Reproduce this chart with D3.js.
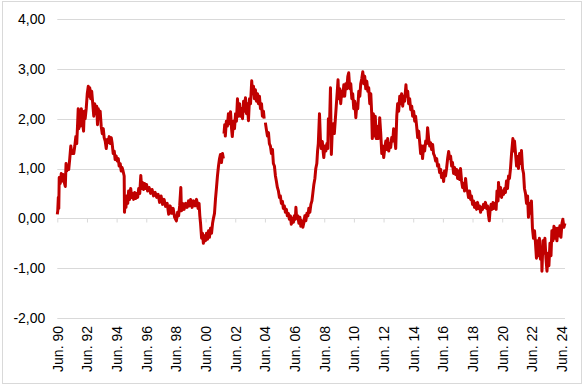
<!doctype html>
<html>
  <head>
    <meta charset="utf-8">
    <script src="https://cdn.jsdelivr.net/npm/d3@7"></script>
    <style>
      body { margin: 0; background: white; }
      .chart text { font-family: "Liberation Sans", Arial, sans-serif; font-size: 14px; fill: #000; }
    </style>
  </head>
  <body>
    <svg class="chart"></svg>

    <script>
      // series is split where the source has missing data (gaps in the line)
      // each entry: [decimal year, value]
      const yields1990 = [
        [1990.42,0.08],[1990.45,0.15],[1990.49,0.42],[1990.52,0.20],[1990.55,0.82],[1990.62,0.70],[1990.69,0.90],
        [1990.76,0.75],[1990.82,0.88],[1990.89,0.72],[1990.96,0.64],[1991.01,1.10],[1991.06,0.95],[1991.12,1.05],
        [1991.19,0.98],[1991.26,1.20],[1991.33,1.45],[1991.40,1.30],[1991.46,1.35],[1991.53,1.30],[1991.60,1.45],
        [1991.67,1.64],[1991.73,1.50],[1991.79,1.90],[1991.83,2.20],[1991.87,1.80],[1991.92,2.10],[1991.97,1.85],
        [1992.04,2.20],[1992.10,2.00],[1992.19,1.75],[1992.24,2.15],[1992.30,2.00],[1992.37,2.20],[1992.44,2.50],
        [1992.51,2.65],[1992.55,2.45],[1992.61,2.62],[1992.67,2.40],[1992.74,2.55],[1992.81,2.30],[1992.88,2.05],
        [1992.94,2.30],[1993.01,2.10],[1993.08,2.25],[1993.13,1.88],[1993.18,2.20],[1993.25,2.05],[1993.31,2.15],
        [1993.38,1.85],[1993.45,1.70],[1993.52,1.80],[1993.58,1.62],[1993.65,1.55],[1993.72,1.40],[1993.79,1.58],
        [1993.85,1.52],[1993.92,1.64],[1993.99,1.50],[1994.06,1.62],[1994.12,1.50],[1994.19,1.30],[1994.26,1.35],
        [1994.32,1.18],[1994.39,1.25],[1994.46,1.15],[1994.53,1.20],[1994.59,1.05],[1994.66,1.10],[1994.73,0.95],
        [1994.79,1.02],[1994.86,0.94],[1994.93,0.85],[1994.95,0.12],[1995.00,0.35],[1995.05,0.22],[1995.10,0.45],
        [1995.17,0.30],[1995.23,0.55],[1995.30,0.38],[1995.37,0.60],[1995.44,0.42],[1995.50,0.50],[1995.57,0.38],
        [1995.64,0.52],[1995.71,0.40],[1995.77,0.50],[1995.84,0.42],[1995.91,0.60],[1995.98,0.50],[1996.05,0.86],
        [1996.11,0.60],[1996.17,0.72],[1996.24,0.58],[1996.31,0.70],[1996.38,0.60],[1996.44,0.68],[1996.51,0.55],
        [1996.61,0.62],[1996.71,0.50],[1996.81,0.58],[1996.91,0.45],[1997.02,0.52],[1997.12,0.42],[1997.22,0.48],
        [1997.32,0.32],[1997.42,0.45],[1997.52,0.28],[1997.62,0.38],[1997.72,0.24],[1997.83,0.30],[1997.93,0.08],
        [1998.03,0.25],[1998.13,0.10],[1998.23,0.20],[1998.33,0.02],[1998.45,-0.05],[1998.53,0.12],[1998.60,0.05],
        [1998.67,0.25],[1998.75,0.62],[1998.79,0.15],[1998.87,0.30],[1998.97,0.18],[1999.07,0.30],[1999.17,0.22],
        [1999.27,0.35],[1999.34,0.25],[1999.41,0.38],[1999.51,0.22],[1999.61,0.35],[1999.71,0.25],[1999.81,0.38],
        [1999.91,0.20],[1999.98,0.30],[2000.03,0.05],[2000.08,-0.10],[2000.15,-0.40],[2000.21,-0.30],[2000.27,-0.50],
        [2000.35,-0.35],[2000.41,-0.45],[2000.48,-0.30],[2000.55,-0.42],[2000.62,-0.25],[2000.68,-0.38],[2000.75,-0.20],
        [2000.82,-0.30],[2000.89,-0.10],[2000.95,0.00],[2001.02,0.10],[2001.09,0.40],[2001.15,0.60],[2001.22,0.85],
        [2001.29,1.05],[2001.36,1.20],[2001.42,1.28],[2001.49,1.12],[2001.56,1.30],[2001.62,1.20]
      ]

      const yields2001 = [
        [2001.66,1.70],[2001.71,1.88],[2001.75,1.65],[2001.82,1.95],[2001.89,1.85],[2001.96,2.10],[2002.03,1.90],
        [2002.10,2.14],[2002.17,1.80],[2002.22,1.64],[2002.30,1.95],[2002.37,1.80],[2002.44,2.10],[2002.50,1.95],
        [2002.57,2.40],[2002.64,2.05],[2002.71,2.30],[2002.77,2.05],[2002.84,2.20],[2002.91,2.00],[2002.98,2.35],
        [2003.04,2.15],[2003.11,2.42],[2003.18,2.10],[2003.24,2.30],[2003.31,1.96],[2003.38,2.40],[2003.45,2.30],
        [2003.53,2.76],[2003.58,2.50],[2003.65,2.65],[2003.71,2.40],[2003.78,2.58],[2003.85,2.35],[2003.92,2.50],
        [2003.98,2.30],[2004.05,2.45],[2004.12,2.20],[2004.19,2.30],[2004.25,2.05],[2004.32,2.15],[2004.37,2.00]
      ]

      const yields2004 = [
        [2004.45,1.92],[2004.52,1.78],[2004.59,1.65],[2004.66,1.72],[2004.72,1.50],[2004.79,1.45],[2004.86,1.30],
        [2004.93,1.38],[2004.99,1.10],[2005.06,1.05],[2005.13,0.85],[2005.19,0.75],[2005.26,0.62],[2005.33,0.55],
        [2005.40,0.42],[2005.46,0.45],[2005.53,0.30],[2005.60,0.34],[2005.66,0.20],[2005.73,0.25],[2005.80,0.12],
        [2005.87,0.18],[2005.93,0.05],[2006.00,0.10],[2006.07,-0.02],[2006.14,0.05],[2006.20,-0.12],[2006.27,0.00],
        [2006.34,-0.08],[2006.40,0.05],[2006.47,-0.02],[2006.51,0.22],[2006.56,0.00],[2006.64,0.05],[2006.71,-0.10],
        [2006.78,0.02],[2006.84,-0.16],[2006.91,-0.05],[2006.98,-0.18],[2007.05,-0.08],[2007.11,0.05],[2007.18,-0.05],
        [2007.25,0.10],[2007.32,0.05],[2007.38,0.20],[2007.45,0.12],[2007.52,0.28],[2007.59,0.35],[2007.65,0.50],
        [2007.72,0.68],[2007.79,0.80],[2007.85,1.00],[2007.92,1.10],[2007.97,1.35],[2008.02,1.50],[2008.10,2.10],
        [2008.16,1.60],[2008.22,1.40],[2008.29,1.54],[2008.36,1.30],[2008.39,1.22],[2008.46,1.45],[2008.53,1.35],
        [2008.60,1.50],[2008.66,1.40],[2008.70,2.00],[2008.76,1.70],[2008.84,2.62],[2008.90,1.28],[2008.96,1.75],
        [2009.03,1.90],[2009.10,1.70],[2009.16,1.95],[2009.23,2.25],[2009.30,2.55],[2009.35,2.78],[2009.40,2.40],
        [2009.47,2.60],[2009.53,2.30],[2009.60,2.55],[2009.67,2.45],[2009.74,2.68],[2009.80,2.45],[2009.87,2.70],
        [2009.94,2.60],[2010.01,2.85],[2010.07,2.92],[2010.14,2.60],[2010.21,2.70],[2010.28,2.40],[2010.34,2.50],
        [2010.41,2.20],[2010.48,2.35],[2010.55,2.02],[2010.62,2.30],[2010.68,2.20],[2010.75,2.55],[2010.82,2.45],
        [2010.88,2.70],[2010.95,2.80],[2011.02,2.94],[2011.09,2.70],[2011.15,2.85],[2011.22,2.60],[2011.29,2.75],
        [2011.36,2.55],[2011.42,2.62],[2011.49,2.30],[2011.56,2.50],[2011.62,2.10],[2011.66,1.60],[2011.73,2.10],
        [2011.79,1.65],[2011.86,2.05],[2011.93,1.60],[2011.99,1.85],[2012.06,1.60],[2012.13,1.80],[2012.16,2.02],
        [2012.23,1.70],[2012.30,1.30],[2012.36,1.45],[2012.43,1.22],[2012.50,1.40],[2012.57,1.55],[2012.63,1.38],
        [2012.70,1.60],[2012.77,1.35],[2012.84,1.50],[2012.90,1.42],[2012.97,1.62],[2013.04,1.55],[2013.10,1.80],
        [2013.17,1.60],[2013.24,1.40],[2013.31,2.05],[2013.37,2.30],[2013.44,2.15],[2013.51,2.45],[2013.58,2.30],
        [2013.64,2.50],[2013.71,2.25],[2013.78,2.45],[2013.84,2.35],[2013.93,2.68],[2013.98,2.45],[2014.05,2.55],
        [2014.11,2.30],[2014.18,2.40],[2014.25,2.18],[2014.32,2.25],[2014.38,2.05],[2014.45,2.15],[2014.52,1.95],
        [2014.58,2.05],[2014.65,1.85],[2014.72,1.62],[2014.79,1.75],[2014.85,1.55],[2014.92,1.30],[2014.99,1.45],
        [2015.05,1.20],[2015.12,1.45],[2015.19,1.35],[2015.26,1.55],[2015.33,1.50],[2015.39,1.82],[2015.46,1.60],
        [2015.53,1.45],[2015.59,1.52],[2015.66,1.38],[2015.73,1.48],[2015.79,1.30],[2015.86,1.25],[2015.93,1.15],
        [2016.00,1.20],[2016.06,1.05],[2016.13,1.08],[2016.20,0.92],[2016.27,0.98],[2016.33,0.82],[2016.40,0.90],
        [2016.47,0.74],[2016.53,0.95],[2016.60,0.85],[2016.67,1.00],[2016.74,1.20],[2016.81,1.34],[2016.87,1.20],
        [2016.94,1.25],[2017.01,1.05],[2017.07,1.12],[2017.14,0.90],[2017.21,1.02],[2017.28,0.88],[2017.35,0.98],
        [2017.41,0.80],[2017.48,0.95],[2017.55,0.78],[2017.61,1.00],[2017.68,0.75],[2017.75,0.62],[2017.81,0.70],
        [2017.88,0.55],[2017.95,0.80],[2018.02,0.58],[2018.08,0.55],[2018.15,0.42],[2018.22,0.55],[2018.29,0.38],
        [2018.35,0.45],[2018.42,0.28],[2018.49,0.35],[2018.55,0.22],[2018.62,0.30],[2018.69,0.18],[2018.76,0.32],
        [2018.82,0.20],[2018.89,0.25],[2018.96,0.12],[2019.03,0.22],[2019.09,0.18],[2019.16,0.28],[2019.23,0.22],
        [2019.29,0.32],[2019.37,0.20],[2019.43,0.25],[2019.50,0.05],[2019.55,-0.05],[2019.60,0.15],[2019.67,0.28],
        [2019.74,0.18],[2019.80,0.32],[2019.87,0.20],[2019.94,0.30],[2020.01,0.18],[2020.07,0.55],[2020.14,0.35],
        [2020.17,0.72],[2020.24,0.45],[2020.31,0.62],[2020.38,0.42],[2020.44,0.55],[2020.51,0.48],[2020.58,0.60],
        [2020.64,0.52],[2020.71,0.75],[2020.78,0.60],[2020.85,0.85],[2020.91,0.80],[2020.98,1.00],[2021.05,1.30],
        [2021.14,1.60],[2021.18,1.35],[2021.25,1.55],[2021.32,1.30],[2021.39,1.05],[2021.45,1.24],[2021.52,1.00],
        [2021.59,1.30],[2021.65,1.10],[2021.72,1.36],[2021.79,1.00],[2021.86,0.90],[2021.92,0.60],[2021.99,0.50],
        [2022.06,0.30],[2022.13,0.45],[2022.19,0.02],[2022.26,0.30],[2022.33,0.10],[2022.39,0.35],[2022.46,-0.20],
        [2022.53,-0.40],[2022.60,-0.25],[2022.66,-0.48],[2022.73,-0.80],[2022.80,-0.45],[2022.87,-0.75],[2022.93,-0.40],
        [2023.00,-0.82],[2023.07,-0.60],[2023.10,-1.06],[2023.17,-0.45],[2023.24,-0.70],[2023.30,-0.40],[2023.37,-0.80],
        [2023.44,-1.06],[2023.51,-0.70],[2023.57,-0.95],[2023.64,-0.50],[2023.71,-0.75],[2023.77,-0.25],[2023.84,-0.45],
        [2023.91,-0.16],[2023.98,-0.40],[2024.04,-0.20],[2024.11,-0.45],[2024.18,-0.20],[2024.24,-0.35],[2024.31,-0.15],
        [2024.38,-0.38],[2024.45,-0.10],[2024.51,-0.02],[2024.58,-0.18],[2024.65,-0.10]
      ]

      const xTickYears = [1990.42,1992.42,1994.42,1996.42,1998.42,2000.42,2002.42,2004.42,2006.42,
                          2008.42,2010.42,2012.42,2014.42,2016.42,2018.42,2020.42,2022.42,2024.42]
      const xTickLabels = ["Jun. 90","Jun. 92","Jun. 94","Jun. 96","Jun. 98","Jun. 00","Jun. 02","Jun. 04","Jun. 06",
                           "Jun. 08","Jun. 10","Jun. 12","Jun. 14","Jun. 16","Jun. 18","Jun. 20","Jun. 22","Jun. 24"]
      const yTicks = [-2, -1, 0, 1, 2, 3, 4]

      const W = 583, H = 386
      const plot = { left: 57.3, right: 565, top: 19, bottom: 318 }

      const x = d3.scaleLinear()
                  .domain([1990.42, 2024.42])
                  .range([plot.left, plot.left + 34 * 14.83])
      const y = d3.scaleLinear()
                  .domain([-2, 4])
                  .range([plot.bottom, plot.top])

      // comma decimals and a plain hyphen for negatives, as in the source
      const locale = d3.formatLocale({ decimal: ",", thousands: ".", grouping: [3], currency: ["", " €"], minus: "-" })
      const fmt = locale.format(".2f")

      const svg = d3.select(".chart")
                    .attr("width", W)
                    .attr("height", H)

      svg.append("rect")
          .attr("x", 2.5).attr("y", 1.5)
          .attr("width", 579).attr("height", 382)
          .attr("fill", "white")
          .attr("stroke", "#d9d9d9")

      // horizontal gridlines
      svg.append("g")
        .selectAll("line")
        .data(yTicks.filter(d => d !== 0))
        .enter().append("line")
          .attr("x1", plot.left).attr("x2", plot.right)
          .attr("y1", d => Math.round(y(d)) + 0.5)
          .attr("y2", d => Math.round(y(d)) + 0.5)
          .attr("stroke", "#d9d9d9")

      // y labels
      svg.append("g")
          .attr("transform", "translate(" + plot.left + ",0)")
          .call(d3.axisLeft(y).tickValues(yTicks).tickSize(0).tickPadding(12).tickFormat(fmt))
          .call(g => g.select(".domain").remove())
          .selectAll("text")
            .attr("fill", "#000")
            .style("font-family", "'Liberation Sans', Arial, sans-serif")
            .style("font-size", "14px")

      // zero line with tick marks
      const y0 = Math.round(y(0)) + 0.5
      const xAxis = svg.append("g")
          .attr("transform", "translate(0," + y0 + ")")
          .call(d3.axisBottom(x).tickValues(xTickYears).tickSize(4).tickFormat(""))
      xAxis.select(".domain").attr("d", "M" + plot.left + ",0H" + plot.right).attr("stroke", "#d9d9d9")
      xAxis.selectAll(".tick line").attr("stroke", "#d9d9d9")

      // category labels along the bottom
      const labelAxis = svg.append("g")
          .attr("transform", "translate(0," + plot.bottom + ")")
          .call(d3.axisBottom(x).tickValues(xTickYears).tickSize(0)
                  .tickFormat((d, i) => xTickLabels[i]))
      labelAxis.select(".domain").remove()
      labelAxis.selectAll("text")
          .attr("transform", "rotate(-90)")
          .attr("x", -8)
          .attr("y", 0)
          .attr("dy", "0.35em")
          .attr("fill", "#000")
          .style("text-anchor", "end")
          .style("font-family", "'Liberation Sans', Arial, sans-serif")
          .style("font-size", "14px")

      const line = d3.line()
                     .x(d => x(d[0]))
                     .y(d => y(d[1]))

      svg.append("g")
        .selectAll("path")
        .data([yields1990, yields2001, yields2004])
        .enter().append("path")
          .attr("d", line)
          .attr("fill", "none")
          .attr("stroke", "#c00000")
          .attr("stroke-width", 3)
          .attr("stroke-linejoin", "round")
    </script>
  </body>
</html>
